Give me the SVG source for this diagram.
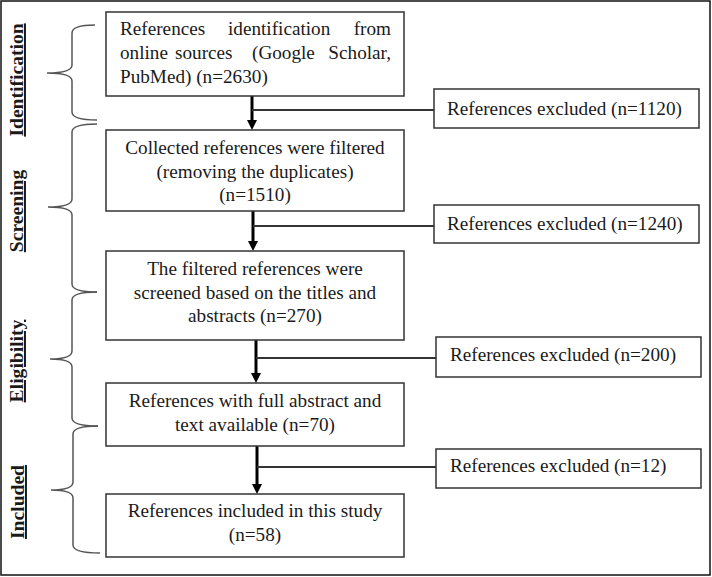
<svg xmlns="http://www.w3.org/2000/svg" width="712" height="577" viewBox="0 0 712 577">
<defs>
<style>
.frame{fill:#fff;stroke:#111;stroke-width:1.5}
.box{fill:#fff;stroke:#333;stroke-width:1.5}
.t{font-family:"Liberation Serif","Times New Roman",serif;font-size:19.2px;fill:#1a1a1a}
.c{text-anchor:middle}
.lbl{font-family:"Liberation Serif","Times New Roman",serif;font-size:19.6px;font-weight:bold;fill:#1a1a1a;text-anchor:middle;text-decoration:underline}
.brace{fill:none;stroke:#555;stroke-width:1.5}
.arr{stroke:#000;stroke-width:3;fill:none}
.hl{stroke:#333;stroke-width:2;fill:none}
</style>
<marker id="ah" viewBox="0 0 10 10" refX="1" refY="5" markerWidth="10" markerHeight="10" markerUnits="userSpaceOnUse" orient="auto">
<path d="M0,0 L10,5 L0,10 z" fill="#000"/>
</marker>
</defs>
<rect class="frame" x="1" y="1" width="709" height="574"/>

<g id="labels">
<text class="lbl" transform="translate(23,80) rotate(-90)">Identification</text>
<text class="lbl" transform="translate(23,211) rotate(-90)">Screening</text>
<text class="lbl" transform="translate(23,361) rotate(-90)">Eligibility</text>
<text class="lbl" transform="translate(24,502) rotate(-90)">Included</text>
</g>

<g id="braces">
<path class="brace" d="M95,25 Q72,25 72,33 L72,65 Q72,73 47,73 Q72,73 72,81 L72,112 Q72,120 97,120"/>
<path class="brace" d="M97,124 Q72,124 72,132 L72,199 Q72,207 48,207 Q72,207 72,215 L72,284 Q72,292 97,292"/>
<path class="brace" d="M97,292 Q72,292 72,300 L72,351 Q72,359 50,359 Q72,359 72,367 L72,418 Q72,426 98,426"/>
<path class="brace" d="M98,426 Q73,426 73,434 L73,482 Q73,490 51,490 Q73,490 73,498 L73,545 Q73,553 100,553"/>
</g>

<g id="connectors">
<line class="arr" x1="252" y1="96" x2="252" y2="121" marker-end="url(#ah)"/>
<line class="hl" x1="252" y1="110" x2="434" y2="110"/>
<line class="arr" x1="253" y1="211" x2="253" y2="242" marker-end="url(#ah)"/>
<line class="hl" x1="253" y1="226" x2="434" y2="226"/>
<line class="arr" x1="256" y1="340" x2="256" y2="374" marker-end="url(#ah)"/>
<line class="hl" x1="256" y1="358" x2="436" y2="358"/>
<line class="arr" x1="257" y1="446" x2="257" y2="485" marker-end="url(#ah)"/>
<line class="hl" x1="257" y1="467" x2="436" y2="467"/>
</g>

<g id="n1">
<rect class="box" x="106" y="12" width="298" height="84"/>
<text class="t"><tspan x="120" y="35">References</tspan><tspan x="228" y="35">identification</tspan><tspan x="391" y="35" text-anchor="end">from</tspan></text>
<text class="t"><tspan x="120" y="59">online</tspan><tspan x="175" y="59">sources</tspan><tspan x="252" y="59">(Google</tspan><tspan x="391" y="59" text-anchor="end">Scholar,</tspan></text>
<text class="t" x="120" y="83">PubMed) (n=2630)</text>
</g>

<g id="n2">
<rect class="box" x="106" y="130" width="298" height="81"/>
<text class="t c" x="255" y="154">Collected references were filtered</text>
<text class="t c" x="255" y="178">(removing the duplicates)</text>
<text class="t c" x="255" y="201">(n=1510)</text>
</g>

<g id="n3">
<rect class="box" x="106" y="251" width="298" height="89"/>
<text class="t c" x="255" y="275">The filtered references were</text>
<text class="t c" x="255" y="299">screened based on the titles and</text>
<text class="t c" x="255" y="322">abstracts (n=270)</text>
</g>

<g id="n4">
<rect class="box" x="106" y="383" width="298" height="63"/>
<text class="t c" x="255" y="407">References with full abstract and</text>
<text class="t c" x="255" y="431">text available (n=70)</text>
</g>

<g id="n5">
<rect class="box" x="106" y="494" width="298" height="63"/>
<text class="t c" x="255" y="517">References included in this study</text>
<text class="t c" x="255" y="541">(n=58)</text>
</g>

<g id="r1">
<rect class="box" x="434" y="89" width="265" height="39"/>
<text class="t" x="447" y="115">References excluded (n=1120)</text>
</g>
<g id="r2">
<rect class="box" x="434" y="205" width="265" height="38"/>
<text class="t" x="447" y="230">References excluded (n=1240)</text>
</g>
<g id="r3">
<rect class="box" x="436" y="337" width="265" height="40"/>
<text class="t" x="450" y="361">References excluded (n=200)</text>
</g>
<g id="r4">
<rect class="box" x="436" y="449" width="265" height="39"/>
<text class="t" x="450" y="472">References excluded (n=12)</text>
</g>
</svg>
